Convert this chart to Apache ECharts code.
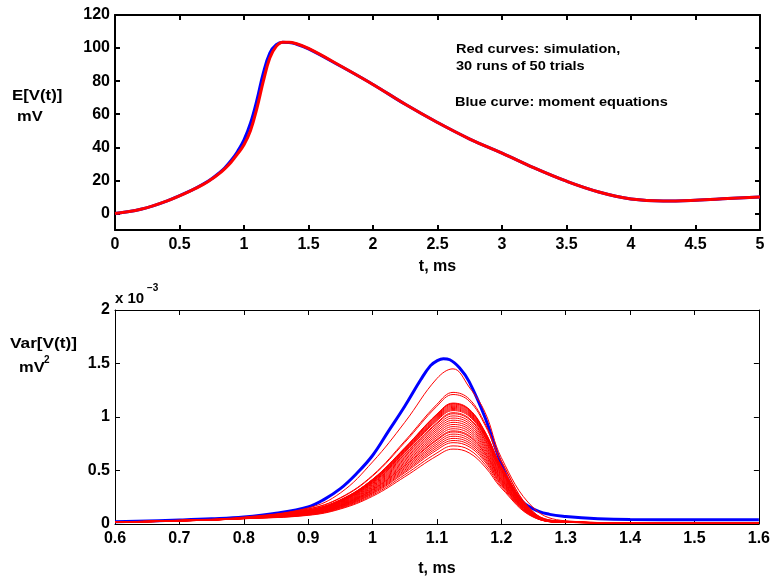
<!DOCTYPE html>
<html>
<head>
<meta charset="utf-8">
<script src="https://cdn.jsdelivr.net/npm/echarts@6/dist/echarts.min.js"></script>
<style>
  html, body { margin: 0; padding: 0; background: #fff; }
  #chart { width: 773px; height: 578px; }
</style>
</head>
<body>
<div id="chart"></div>
<script>
// top panel: mean voltage, ms / mV
const tMean = [0, 0.2, 0.4, 0.6, 0.7, 0.75, 0.8, 0.85, 0.9, 0.95, 1.0, 1.05, 1.1, 1.15, 1.2, 1.25, 1.3, 1.35, 1.4, 1.5, 1.75, 2.0, 2.25, 2.5, 2.75, 3.0, 3.25, 3.5, 3.75, 4.0, 4.25, 4.5, 4.75, 5.0];
const meanMoment = [0, 2.5, 7.5, 14.3, 18.5, 21, 24, 27.5, 32, 37.5, 44.5, 54.5, 68.5, 85, 97, 102, 103.5, 103.3, 102.5, 99.5, 89, 78, 66, 55, 45, 36.5, 27.5, 19.5, 13, 8.8, 7.5, 8, 9, 10];
const meanSim = [0, 2.5, 7.5, 14.2, 18.3, 20.8, 23.6, 27, 31, 36, 41.5, 50, 63.5, 80, 94, 101, 103.5, 103.5, 102.8, 99.8, 89.2, 78, 66, 55, 45, 36.5, 27.5, 19.5, 13, 8.8, 7.5, 8, 9, 10];
const meanTicks = [0, 20, 40, 60, 80, 100, 120];

// bottom panel: variance, values in units of 1e-3 mV^2
const tVarMoment = [0.6, 0.7, 0.75, 0.8, 0.85, 0.9, 0.925, 0.95, 0.975, 1.0, 1.025, 1.05, 1.075, 1.09, 1.1, 1.11, 1.12, 1.135, 1.15, 1.175, 1.2, 1.225, 1.25, 1.275, 1.3, 1.35, 1.4, 1.5, 1.6];
const varMoment = [0.02, 0.037, 0.048, 0.065, 0.1, 0.16, 0.23, 0.33, 0.47, 0.64, 0.87, 1.1, 1.35, 1.48, 1.525, 1.545, 1.535, 1.46, 1.33, 0.99, 0.56, 0.26, 0.14, 0.09, 0.07, 0.05, 0.042, 0.04, 0.04];
const tVarSim = [0.6, 0.7, 0.8, 0.9, 0.95, 1.0, 1.05, 1.1, 1.125, 1.15, 1.175, 1.2, 1.25, 1.3, 1.4, 1.6];
const varSimRuns = [
  [0.02, 0.036, 0.065, 0.15, 0.29, 0.58, 0.95, 1.36, 1.45, 1.28, 1.04, 0.62, 0.15, 0.03, 0.012, 0.012],
  [0.019, 0.034, 0.06, 0.141, 0.246, 0.455, 0.775, 1.119, 1.23, 1.169, 0.935, 0.59, 0.111, 0.025, 0.012, 0.012],
  [0.019, 0.034, 0.06, 0.139, 0.242, 0.448, 0.762, 1.101, 1.21, 1.15, 0.92, 0.581, 0.109, 0.025, 0.012, 0.012],
  [0.018, 0.033, 0.058, 0.13, 0.226, 0.418, 0.712, 1.028, 1.13, 1.074, 0.859, 0.542, 0.102, 0.022, 0.011, 0.012],
  [0.018, 0.033, 0.058, 0.129, 0.225, 0.416, 0.709, 1.024, 1.125, 1.069, 0.855, 0.54, 0.101, 0.022, 0.011, 0.012],
  [0.018, 0.033, 0.058, 0.129, 0.224, 0.414, 0.706, 1.019, 1.12, 1.064, 0.851, 0.538, 0.101, 0.022, 0.011, 0.012],
  [0.018, 0.033, 0.057, 0.128, 0.222, 0.411, 0.699, 1.01, 1.11, 1.055, 0.844, 0.533, 0.1, 0.021, 0.011, 0.012],
  [0.018, 0.032, 0.057, 0.127, 0.22, 0.407, 0.693, 1.001, 1.1, 1.045, 0.836, 0.528, 0.099, 0.021, 0.011, 0.012],
  [0.018, 0.032, 0.057, 0.125, 0.218, 0.403, 0.687, 0.992, 1.09, 1.036, 0.828, 0.523, 0.098, 0.021, 0.011, 0.012],
  [0.017, 0.032, 0.056, 0.124, 0.216, 0.4, 0.68, 0.983, 1.08, 1.026, 0.821, 0.518, 0.097, 0.02, 0.011, 0.012],
  [0.017, 0.032, 0.056, 0.123, 0.214, 0.396, 0.674, 0.974, 1.07, 1.017, 0.813, 0.514, 0.096, 0.02, 0.011, 0.012],
  [0.017, 0.031, 0.056, 0.122, 0.212, 0.392, 0.668, 0.965, 1.06, 1.007, 0.806, 0.509, 0.095, 0.02, 0.011, 0.012],
  [0.017, 0.031, 0.055, 0.12, 0.208, 0.385, 0.655, 0.946, 1.04, 0.988, 0.79, 0.499, 0.094, 0.02, 0.011, 0.012],
  [0.017, 0.031, 0.055, 0.118, 0.206, 0.381, 0.649, 0.937, 1.03, 0.979, 0.783, 0.494, 0.093, 0.019, 0.011, 0.012],
  [0.017, 0.031, 0.055, 0.116, 0.202, 0.374, 0.636, 0.919, 1.01, 0.96, 0.768, 0.485, 0.091, 0.019, 0.011, 0.012],
  [0.017, 0.031, 0.054, 0.114, 0.198, 0.366, 0.624, 0.901, 0.99, 0.941, 0.752, 0.475, 0.089, 0.019, 0.011, 0.012],
  [0.017, 0.03, 0.054, 0.112, 0.194, 0.359, 0.611, 0.883, 0.97, 0.922, 0.737, 0.466, 0.087, 0.018, 0.011, 0.012],
  [0.016, 0.03, 0.054, 0.109, 0.19, 0.352, 0.599, 0.865, 0.95, 0.903, 0.722, 0.456, 0.086, 0.018, 0.011, 0.012],
  [0.016, 0.03, 0.053, 0.107, 0.186, 0.344, 0.586, 0.846, 0.93, 0.884, 0.707, 0.446, 0.084, 0.018, 0.011, 0.012],
  [0.016, 0.03, 0.053, 0.105, 0.182, 0.337, 0.573, 0.828, 0.91, 0.865, 0.692, 0.437, 0.082, 0.017, 0.011, 0.012],
  [0.016, 0.03, 0.053, 0.102, 0.178, 0.329, 0.561, 0.81, 0.89, 0.846, 0.676, 0.427, 0.08, 0.017, 0.011, 0.012],
  [0.016, 0.029, 0.052, 0.1, 0.174, 0.322, 0.548, 0.792, 0.87, 0.827, 0.661, 0.418, 0.078, 0.017, 0.011, 0.012],
  [0.016, 0.029, 0.052, 0.099, 0.172, 0.318, 0.542, 0.783, 0.86, 0.817, 0.654, 0.413, 0.077, 0.016, 0.011, 0.012],
  [0.016, 0.029, 0.052, 0.097, 0.168, 0.311, 0.529, 0.764, 0.84, 0.798, 0.638, 0.403, 0.076, 0.016, 0.011, 0.012],
  [0.015, 0.029, 0.051, 0.094, 0.164, 0.303, 0.517, 0.746, 0.82, 0.779, 0.623, 0.394, 0.074, 0.016, 0.011, 0.012],
  [0.015, 0.029, 0.051, 0.092, 0.16, 0.296, 0.504, 0.728, 0.8, 0.76, 0.608, 0.384, 0.072, 0.016, 0.011, 0.012],
  [0.015, 0.028, 0.05, 0.09, 0.156, 0.289, 0.491, 0.71, 0.78, 0.741, 0.593, 0.374, 0.07, 0.015, 0.011, 0.012],
  [0.015, 0.028, 0.05, 0.087, 0.152, 0.281, 0.479, 0.692, 0.76, 0.722, 0.578, 0.365, 0.068, 0.015, 0.011, 0.012],
  [0.015, 0.028, 0.05, 0.084, 0.146, 0.27, 0.46, 0.664, 0.73, 0.694, 0.555, 0.35, 0.066, 0.015, 0.011, 0.012],
  [0.015, 0.028, 0.049, 0.081, 0.14, 0.259, 0.441, 0.637, 0.7, 0.665, 0.532, 0.336, 0.063, 0.015, 0.011, 0.012]
];

const FONT = 'Liberation Sans, Arial, sans-serif';
const BLUE = '#0000ff';
const RED = '#ff0000';

const chart = echarts.init(document.getElementById('chart'), null, { renderer: 'canvas' });

function pairs(xs, ys) {
  return xs.map((x, i) => [x, ys[i]]);
}

const labelStyle = { color: '#000', fontFamily: FONT, fontWeight: 'bold', fontSize: 16 };

function xAx(grid, min, max, step, pos, lw, showLabel, name, gap) {
  return {
    type: 'value', gridIndex: grid, position: pos, min: min, max: max, interval: step,
    axisLine: { show: true, onZero: false, lineStyle: { color: '#000', width: lw } },
    axisTick: { show: true, inside: true, length: 5, lineStyle: { color: '#000', width: lw } },
    axisLabel: Object.assign({ show: showLabel, margin: 7 }, labelStyle),
    splitLine: { show: false },
    name: name || '', nameLocation: 'middle', nameGap: gap || 0,
    nameTextStyle: labelStyle
  };
}

function yAx(grid, min, max, ticks, pos, lw, showLabel, fmt) {
  return {
    type: 'value', gridIndex: grid, position: pos, min: min, max: max,
    axisLine: { show: true, onZero: false, lineStyle: { color: '#000', width: lw } },
    axisTick: { show: true, inside: true, length: 5, customValues: ticks, lineStyle: { color: '#000', width: lw } },
    axisLabel: Object.assign({ show: showLabel, margin: 5, customValues: ticks, formatter: fmt }, labelStyle),
    splitLine: { show: false }
  };
}

const varTicks = [0, 0.5, 1, 1.5, 2];

function line(xi, yi, xs, ys, color, w, z) {
  return {
    type: 'line', xAxisIndex: xi, yAxisIndex: yi, data: pairs(xs, ys),
    smooth: 0.4, showSymbol: false,
    lineStyle: { color: color, width: w }, z: z
  };
}

const series = [
  line(0, 0, tMean, meanMoment, BLUE, 3, 2),
  line(0, 0, tMean, meanSim, RED, 3, 3),
  line(2, 2, tVarMoment, varMoment, BLUE, 3, 2)
];
varSimRuns.forEach(run => series.push(line(2, 2, tVarSim, run, RED, 1, 3)));

const txt = (x, y, s, size, sx) => ({
  type: 'text', left: x, top: y, scaleX: sx || 1,
  style: { text: s, fill: '#000', font: 'bold ' + size + 'px ' + FONT }
});

chart.setOption({
  animation: false,
  backgroundColor: '#fff',
  grid: [
    { left: 115, right: 13, top: 15, height: 215 },
    { left: 115, right: 13, top: 310, height: 215 }
  ],
  xAxis: [
    xAx(0, 0, 5, 0.5, 'bottom', 2, true, 't, ms', 29),
    xAx(0, 0, 5, 0.5, 'top', 2, false),
    xAx(1, 0.6, 1.6, 0.1, 'bottom', 1, true, 't, ms', 37),
    xAx(1, 0.6, 1.6, 0.1, 'top', 1, false)
  ],
  yAxis: [
    yAx(0, -10, 120, meanTicks, 'left', 2, true),
    yAx(0, -10, 120, meanTicks, 'right', 2, false),
    yAx(1, 0, 2, varTicks, 'left', 1, true, v => String(v)),
    yAx(1, 0, 2, varTicks, 'right', 1, false)
  ],
  series: series,
  graphic: [
    txt(12, 88, 'E[V(t)]', 15, 1.12),
    txt(17, 109, 'mV', 15, 1.1),
    txt(10, 336, 'Var[V(t)]', 15, 1.15),
    txt(19, 360, 'mV', 15, 1.1),
    txt(44, 355, '2', 10),
    txt(115, 291, 'x 10', 15),
    txt(147, 283, '\u22123', 10),
    txt(456, 43, 'Red curves: simulation,', 13, 1.12),
    txt(456, 60, '30 runs of 50 trials', 13, 1.12),
    txt(455, 96, 'Blue curve: moment equations', 13, 1.12)
  ]
});
</script>
</body>
</html>
